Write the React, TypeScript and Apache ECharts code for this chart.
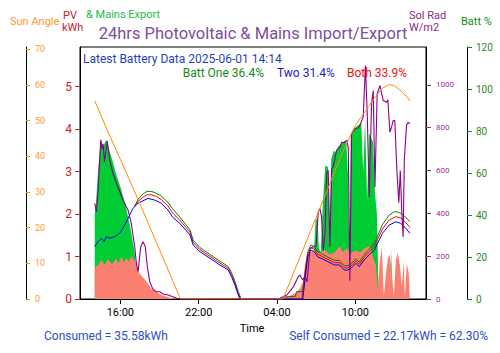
import React, { useEffect, useRef } from "react";
import * as echarts from "echarts";

// Time in hours from 00:00 of the first day (e.g. 28 = 04:00 next day)
const xTicks = [16, 22, 28, 34];

// Sun angle (degrees)
const sunT = [14.04, 15, 16, 17, 18, 19, 20, 20.6, 28.45, 29, 30, 31, 32, 33, 34, 35, 36, 36.6, 37, 37.5, 38, 38.17];
const sunV = [55.5, 47.3, 39.1, 30.9, 22.4, 13.8, 5.2, 0, 0, 4.9, 13.9, 22.9, 31.9, 40.9, 48.6, 53.9, 58.9, 60.1, 59.7, 58.3, 56.4, 55.5];

// PV kWh (salmon)
const pvT = [14.04, 14.29, 14.55, 14.81, 15.06, 15.36, 15.69, 15.88, 16.08, 16.28, 16.46, 16.64, 16.84, 17.05, 17.23, 17.36, 17.61, 18.0, 18.37, 18.63, 18.89, 19.27, 19.8, 20.4,
  28.23, 28.46, 29.0, 29.46, 29.76, 29.99, 30.14, 30.3, 30.53, 30.9, 31.28, 31.66, 32.05, 32.43, 32.81, 33.04, 33.35, 33.58, 33.97, 34.35, 34.73, 35.11, 35.34, 35.57, 35.72, 35.88, 36.03, 36.18, 36.34, 36.49, 36.64, 36.8, 36.95, 37.1, 37.25, 37.41, 37.56, 37.71, 37.79, 37.94, 38.09, 38.17];
const pvV = [0.75, 0.8, 0.92, 0.8, 0.94, 0.82, 0.95, 0.85, 1.0, 0.86, 0.97, 0.88, 1.02, 0.92, 0.8, 0.65, 0.55, 0.41, 0.25, 0.2, 0.14, 0.08, 0.03, 0,
  0, 0.03, 0.08, 0.15, 0.25, 0.4, 0.8, 1.05, 1.1, 1.15, 1.1, 1.15, 1.05, 1.1, 1.25, 1.1, 1.2, 1.05, 1.15, 1.1, 1.2, 1.25, 1.0, 0.8, 0.2, 0.9, 1.2, 0.05, 0.6, 0.95, 1.05, 0.6, 0.05, 0.9, 1.1, 0.8, 0.3, 0.9, 0, 0.85, 0.6, 0];

// Mains export kWh (green fill)
const exT = [14.04, 14.14, 14.29, 14.5, 14.68, 14.93, 15.06, 15.36, 15.67, 16.08, 16.36, 16.59, 16.82, 17.1, 17.23, 17.36,
  30.6, 30.8, 30.95, 31.1, 31.2, 31.35, 31.5, 31.7, 31.9, 32.05, 32.15, 32.35, 32.5, 32.7, 32.9, 33.1, 33.3, 33.45, 33.55, 33.65, 33.85, 34.05, 34.25, 34.45, 34.6, 34.75, 34.9, 35.05, 35.2, 35.35, 35.5, 35.65, 35.75, 35.85, 36.7, 36.76, 36.82];
const exV = [2.0, 2.3, 3.0, 3.75, 3.6, 3.75, 3.59, 3.3, 2.95, 2.57, 2.25, 1.94, 1.6, 1.08, 0.6, 0,
  0, 0.9, 1.85, 1.9, 1.2, 1.1, 2.2, 3.15, 3.1, 1.5, 3.3, 3.5, 3.45, 3.6, 3.65, 3.7, 3.75, 2.8, 0.8, 3.9, 4.0, 4.05, 4.1, 4.15, 3.0, 4.2, 2.3, 3.9, 3.8, 3.7, 2.5, 2.0, 0.5, 0, 0, 1.2, 0];

// Solar radiation W/m2
const srT = [14.04, 14.16, 14.29, 14.5, 14.6, 14.68, 14.79, 15.0, 15.19, 15.44, 15.82, 16.21, 16.59, 16.84, 17.1, 17.23, 17.36, 17.56, 17.74, 17.91, 18.07, 18.25, 18.5, 18.76, 19.02, 19.27, 19.65, 19.96, 20.27, 20.57,
  28.23, 28.77, 29.25, 29.63, 29.76, 29.97, 30.14, 30.3, 30.53, 30.78, 30.99, 31.16, 31.28, 31.41, 31.54, 31.67, 31.8, 31.92, 32.05, 32.18, 32.3, 32.56, 32.82, 32.95, 33.12, 33.37, 33.46, 33.58, 33.71, 33.96, 34.22, 34.35, 34.6, 34.77, 34.91, 35.06, 35.24, 35.37, 35.5, 35.67, 35.88, 36.13, 36.39, 36.49, 36.64, 36.76, 36.9, 37.02, 37.18, 37.33, 37.44, 37.56, 37.66, 37.75, 37.92, 38.05, 38.17];
const srV = [446, 407, 500, 744, 700, 725, 640, 738, 648, 586, 523, 461, 415, 353, 244, 166, 127, 244, 267, 244, 150, 81, 45, 34, 34, 23, 19, 12, 5, 0,
  3, 20, 57, 104, 112, 89, 104, 80, 236, 244, 250, 407, 423, 384, 228, 300, 586, 601, 244, 609, 617, 694, 710, 733, 730, 741, 700, 85, 772, 795, 800, 811, 850, 1090, 865, 477, 912, 974, 523, 958, 997, 927, 919, 930, 780, 800, 834, 834, 600, 450, 600, 400, 290, 650, 811, 826, 818];

// Battery Two %
const twoT = [14.04, 14.29, 14.55, 14.75, 14.93, 15.19, 15.57, 15.95, 16.33, 16.59, 16.97, 17.36, 17.74, 18.12, 18.63, 19.14, 19.65, 20.0, 20.56, 21.33, 21.58, 22.1, 22.86, 23.63, 24.26, 24.52, 24.77, 25.03, 25.15,
  29.97, 30.35, 30.6, 30.86, 31.11, 31.37, 31.88, 32.39, 32.77, 33.15, 33.41, 33.66, 34.04, 34.3, 34.68, 35.06, 35.45, 35.7, 36.08, 36.59, 37.1, 37.48, 37.86, 38.17];
const twoV = [24.9, 27.3, 28.9, 27.3, 29.7, 28.9, 29.7, 31.3, 35.2, 38.4, 43.2, 45.6, 46.8, 47.9, 47.1, 45.6, 42.4, 39, 36, 30.5, 25.7, 22.5, 19.4, 16.2, 13.8, 10.6, 6.7, 1.9, 0,
  0, 20.1, 23.3, 22.5, 20.1, 19.4, 17.8, 16.2, 16.2, 13.8, 13.8, 14.6, 17.0, 15.4, 18.6, 21, 23.3, 26.5, 31.3, 35.2, 36.8, 36, 33.7, 31.3];

// Battery One %
const oneT = [17.1, 17.36, 17.74, 18.05, 18.4, 18.7, 19.14, 19.65, 20.0, 20.56, 21.33, 21.58, 22.1, 22.86, 23.63, 24.26, 24.52, 24.77, 25.03, 25.25,
  28.3, 28.6, 29.4, 29.5, 29.95, 30.35, 30.6, 30.86, 31.11, 31.37, 31.88, 32.39, 32.77, 33.15, 33.41, 33.66, 34.04, 34.3, 34.68, 35.06, 35.45, 35.7, 36.08, 36.59, 37.0, 37.3, 37.48, 37.86, 38.17];
const oneV = [44.2, 47.5, 50, 51.3, 51.2, 50.5, 49, 46, 43, 39, 33, 28, 24.5, 21.2, 18, 15.5, 12.5, 8.5, 3.5, 0,
  0, 1, 1.2, 3.5, 3.5, 22.5, 25.7, 24.9, 22.5, 21.8, 20, 18.4, 18.4, 15.9, 15.9, 16.7, 19.2, 17.6, 21, 23.8, 26.5, 30, 35.5, 40, 41.6, 41.3, 40.8, 39, 36.8];

// Both batteries %
const bothT = [17.1, 17.36, 17.74, 18.05, 18.4, 18.7, 19.14, 19.65, 20.0, 20.56, 21.33, 21.58, 22.1, 22.86, 23.63, 24.26, 24.52, 24.77, 25.03, 25.2,
  29.9, 30.35, 30.6, 30.86, 31.11, 31.37, 31.88, 32.39, 32.77, 33.15, 33.41, 33.66, 34.04, 34.3, 34.68, 35.06, 35.45, 35.7, 36.08, 36.59, 37.1, 37.48, 37.86, 38.17];
const bothV = [44.2, 46.5, 48.5, 49.7, 49.6, 49, 47.3, 44.3, 41, 37.5, 31.8, 26.9, 23.5, 20.3, 17.1, 14.6, 11.5, 7.6, 2.7, 0,
  0, 21.3, 24.5, 23.7, 21.3, 20.6, 18.9, 17.3, 17.3, 14.9, 14.9, 15.7, 18.1, 16.5, 19.8, 22.4, 25, 28.3, 33.4, 37.6, 39.2, 38.6, 36.4, 34.1];

const kwhTicks = [0, 1, 2, 3, 4, 5];
const sunTicks = [0, 10, 20, 30, 40, 50, 60, 70];
const srTicks = [0, 200, 400, 600, 800, 1000];

const pairs = (t: number[], v: number[]) => t.map((x, i) => [x, v[i]]);
const FONT = "Roboto";

const txt = (text: string, x: number, y: number, fill: string, size: number, align = "left") => ({
  type: "text",
  x,
  y,
  style: { text, fill, font: `${size}px ${FONT}`, textAlign: align, textVerticalAlign: "middle", align, verticalAlign: "middle" },
  z: 100,
});

export default function App() {
  const ref = useRef<HTMLDivElement>(null);
  useEffect(() => {
    const chart = echarts.init(ref.current!, null, { renderer: "svg" });
    const line = (data: number[][], color: string, yAxisIndex: number, width: number, z: number) => ({
      type: "line",
      data,
      yAxisIndex,
      symbol: "none",
      z,
      itemStyle: { color },
      lineStyle: { color, width },
    });
    const area = (data: number[][], color: string, z: number) => ({
      type: "line",
      data,
      yAxisIndex: 0,
      symbol: "none",
      z,
      itemStyle: { color },
      lineStyle: { width: 0, color },
      areaStyle: { color, opacity: 1 },
    });
    chart.setOption({
      animation: false,
      grid: { left: 80, right: 74, top: 47, bottom: 54, show: true, borderColor: "#000", borderWidth: 1 },
      xAxis: {
        type: "value",
        min: 12.91,
        max: 39.41,
        splitLine: { show: false },
        axisLine: { lineStyle: { color: "#000" } },
        axisTick: { customValues: xTicks, length: 5, lineStyle: { color: "#000" } },
        axisLabel: {
          customValues: xTicks,
          color: "#000",
          fontSize: 11,
          fontFamily: FONT,
          margin: 8,
          formatter: (v: number) => String(Math.round(v) % 24).padStart(2, "0") + ":00",
        },
      },
      yAxis: [
        {
          type: "value", position: "left", min: 0, max: 5.935,
          splitLine: { show: false },
          axisLine: { show: true, lineStyle: { color: "#000" } },
          axisTick: { show: true, customValues: kwhTicks, length: 5, lineStyle: { color: "#d01c1c" } },
          axisLabel: { customValues: kwhTicks, color: "#cc2222", fontSize: 12, fontFamily: FONT, margin: 8 },
        },
        {
          type: "value", position: "left", offset: 54, min: 0, max: 70.6,
          splitLine: { show: false },
          axisLine: { show: true, lineStyle: { color: "#000" } },
          axisTick: { show: true, inside: true, customValues: sunTicks, length: 4, lineStyle: { color: "#ff8c00" } },
          axisLabel: { inside: true, customValues: sunTicks, color: "#ff9a2e", fontSize: 9, fontFamily: FONT, margin: 9 },
        },
        {
          type: "value", position: "right", offset: 0, min: 0, max: 1177,
          splitLine: { show: false },
          axisLine: { show: true, lineStyle: { color: "#000" } },
          axisTick: { show: true, customValues: srTicks, length: 5, lineStyle: { color: "#a020a0" } },
          axisLabel: { customValues: srTicks, color: "#a02aa0", fontSize: 8, fontFamily: FONT, margin: 10, formatter: (v: number) => String(v) },
        },
        {
          type: "value", position: "right", offset: 41, min: 0, max: 120, interval: 20,
          splitLine: { show: false },
          axisLine: { show: true, lineStyle: { color: "#000" } },
          axisTick: { show: true, length: 5, lineStyle: { color: "#138a13" } },
          axisLabel: { color: "#2a8a2a", fontSize: 10, fontFamily: FONT, margin: 9 },
        },
      ],
      series: [
        area(pairs(exT, exV), "#00cc33", 1),
        area(pairs(pvT, pvV), "#fa8072", 2),
        line(pairs(oneT, oneV), "#008000", 3, 1, 3),
        line(pairs(bothT, bothV), "#ff0000", 3, 1, 4),
        line(pairs(twoT, twoV), "#0000ee", 3, 1, 5),
        line(pairs(srT, srV), "#8b008b", 2, 1.1, 6),
        line(pairs(sunT, sunV), "#ff8c00", 1, 1, 7),
      ],
      graphic: [
        txt("24hrs Photovoltaic & Mains Import/Export", 253, 33, "#7d4e9e", 16.5, "center"),
        txt("Sun Angle", 10, 21, "#ff9933", 11),
        txt("PV", 63, 15, "#cc2222", 11),
        txt("kWh", 62, 27, "#cc2222", 11),
        txt("& Mains Export", 86, 14, "#22bb44", 11),
        txt("Sol Rad", 409, 15, "#8b2a8b", 11),
        txt("W/m2", 409, 27, "#8b2a8b", 11),
        txt("Batt %", 461, 21, "#138a13", 11),
        txt("Latest Battery Data 2025-06-01 14:14", 83, 59, "#1f3fbf", 12),
        txt("Batt One 36.4%", 264, 72.5, "#138a13", 12, "right"),
        txt("Two 31.4%", 277, 72.5, "#1a1acc", 12),
        txt("Both 33.9%", 347, 72.5, "#ee1111", 12),
        txt("Time", 252, 328, "#000", 11, "center"),
        txt("Consumed = 35.58kWh", 44, 336, "#2a4fbf", 12),
        txt("Self Consumed = 22.17kWh = 62.30%", 488, 336, "#2a4fbf", 12, "right"),
      ],
    });
    return () => chart.dispose();
  }, []);
  return <div ref={ref} style={{ position: "absolute", left: 0, top: 0, width: 500, height: 353 }} />;
}
